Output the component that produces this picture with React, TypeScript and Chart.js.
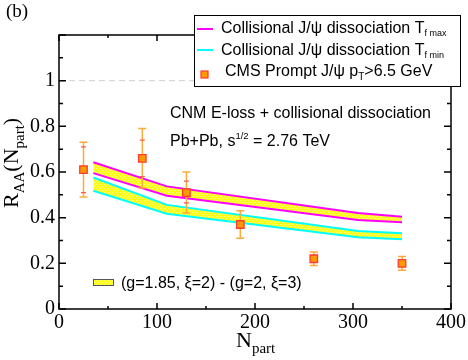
import React, { useEffect, useRef } from "react";
import { Chart, registerables } from "chart.js";

Chart.register(...registerables);

// CMS data points
const npart = [25, 85, 130, 185, 260, 350];
const raa = [0.61, 0.66, 0.51, 0.37, 0.22, 0.2];
const errOuterHi = [0.73, 0.79, 0.6, 0.43, 0.25, 0.23];
const errOuterLo = [0.49, 0.53, 0.42, 0.31, 0.19, 0.17];
const errInnerHi = [0.71, 0.74, 0.56, null, null, null];
const errInnerLo = [0.51, 0.58, 0.465, null, null, null];

// Theory bands
const bandN = [35, 110, 305, 350];
const magUp = [0.643, 0.537, 0.42, 0.404];
const magLo = [0.595, 0.496, 0.39, 0.38];
const cyUp = [0.576, 0.456, 0.342, 0.332];
const cyLo = [0.518, 0.417, 0.314, 0.306];

const xTicks = [0, 100, 200, 300, 400];
const yTicks = [0, 0.2, 0.4, 0.6, 0.8, 1];

const SERIF = "'Liberation Serif', 'Times New Roman', serif";
const SANS = "'Liberation Sans', Arial, sans-serif";

function makePattern(): CanvasPattern | string {
  const c = document.createElement("canvas");
  c.width = 4;
  c.height = 4;
  const g = c.getContext("2d");
  if (!g) return "#ffff00";
  g.fillStyle = "#ffff10";
  g.fillRect(0, 0, 4, 4);
  g.fillStyle = "#ffff90";
  g.fillRect(0, 0, 1, 1);
  g.fillRect(2, 2, 1, 1);
  const p = g.createPattern(c, "repeat");
  return p || "#ffff00";
}

type Part = { t: string; font: string; dy?: number };
function drawRich(ctx: CanvasRenderingContext2D, x: number, y: number, parts: Part[]) {
  let cx = x;
  for (const p of parts) {
    ctx.font = p.font;
    ctx.fillText(p.t, cx, y + (p.dy || 0));
    cx += ctx.measureText(p.t).width;
  }
}

export default function App() {
  const ref = useRef<HTMLCanvasElement | null>(null);

  useEffect(() => {
    if (!ref.current) return;
    const pattern = makePattern();

    const deco = {
      id: "deco",
      beforeDatasetsDraw(chart: any) {
        const { ctx, chartArea, scales } = chart;
        const y1 = scales.y.getPixelForValue(1);
        ctx.save();
        ctx.strokeStyle = "#d0d0d0";
        ctx.lineWidth = 1;
        ctx.setLineDash([6, 4]);
        ctx.beginPath();
        ctx.moveTo(chartArea.left, y1);
        ctx.lineTo(chartArea.right, y1);
        ctx.stroke();
        ctx.restore();
      },
      beforeDatasetDraw(chart: any, args: any) {
        if (args.index !== 0) return;
        const { ctx, scales } = chart;
        ctx.save();
        ctx.lineWidth = 1.5;
        for (let i = 0; i < npart.length; i++) {
          const x = scales.x.getPixelForValue(npart[i]);
          const hi = scales.y.getPixelForValue(errOuterHi[i]);
          const lo = scales.y.getPixelForValue(errOuterLo[i]);
          ctx.strokeStyle = "#ffaa3a";
          ctx.beginPath();
          ctx.moveTo(x, hi);
          ctx.lineTo(x, lo);
          ctx.moveTo(x - 4, hi);
          ctx.lineTo(x + 4, hi);
          ctx.moveTo(x - 4, lo);
          ctx.lineTo(x + 4, lo);
          ctx.stroke();
          const ih = errInnerHi[i];
          const il = errInnerLo[i];
          if (ih != null && il != null) {
            const a = scales.y.getPixelForValue(ih);
            const b = scales.y.getPixelForValue(il);
            ctx.strokeStyle = "#ff5a4a";
            ctx.lineWidth = 1.2;
            ctx.beginPath();
            ctx.moveTo(x - 2.5, a);
            ctx.lineTo(x + 2.5, a);
            ctx.moveTo(x - 2.5, b);
            ctx.lineTo(x + 2.5, b);
            ctx.stroke();
            ctx.lineWidth = 1.5;
          }
        }
        ctx.restore();
      },
      afterDraw(chart: any) {
        const { ctx, chartArea, scales } = chart;
        const { left, right, top, bottom } = chartArea;
        ctx.save();
        // frame
        ctx.strokeStyle = "#000";
        ctx.lineWidth = 1.5;
        ctx.strokeRect(left, top, right - left, bottom - top);
        // ticks
        ctx.beginPath();
        for (let v = 0; v <= 400; v += 50) {
          const x = scales.x.getPixelForValue(v);
          const len = v % 100 === 0 ? 6 : 3;
          ctx.moveTo(x, bottom);
          ctx.lineTo(x, bottom - len);
          ctx.moveTo(x, top);
          ctx.lineTo(x, top + len);
        }
        for (let k = 0; k <= 12; k++) {
          const y = scales.y.getPixelForValue(k / 10);
          const len = k % 2 === 0 ? 7 : 4;
          ctx.moveTo(left, y);
          ctx.lineTo(left + len, y);
          ctx.moveTo(right, y);
          ctx.lineTo(right - len, y);
        }
        ctx.stroke();

        ctx.fillStyle = "#000";
        ctx.textBaseline = "alphabetic";
        ctx.textAlign = "left";
        // (b)
        ctx.font = `19px ${SERIF}`;
        ctx.fillText("(b)", 6, 17);

        // legend box
        ctx.fillStyle = "#fff";
        ctx.fillRect(194, 15, 267, 72);
        ctx.strokeStyle = "#000";
        ctx.lineWidth = 1;
        ctx.strokeRect(194.5, 15.5, 266, 71);
        ctx.lineWidth = 2;
        ctx.strokeStyle = "#ff00ff";
        ctx.beginPath();
        ctx.moveTo(197, 29);
        ctx.lineTo(213, 29);
        ctx.stroke();
        ctx.strokeStyle = "#00ffff";
        ctx.beginPath();
        ctx.moveTo(197, 50);
        ctx.lineTo(213, 50);
        ctx.stroke();
        ctx.fillStyle = "#ff9900";
        ctx.fillRect(201, 71, 7, 7);
        ctx.strokeStyle = "#ff3a30";
        ctx.lineWidth = 1.2;
        ctx.strokeRect(201, 71, 7, 7);

        ctx.fillStyle = "#000";
        const f14 = `16px ${SANS}`;
        const f9 = `9px ${SANS}`;
        drawRich(ctx, 221, 33, [
          { t: "Collisional J/\u03c8 dissociation T", font: f14 },
          { t: "f max", font: f9, dy: 3 },
        ]);
        drawRich(ctx, 221, 55, [
          { t: "Collisional J/\u03c8 dissociation T", font: f14 },
          { t: "f min", font: f9, dy: 3 },
        ]);
        drawRich(ctx, 225, 76, [
          { t: "CMS Prompt J/\u03c8 p", font: f14 },
          { t: "T", font: `10px ${SANS}`, dy: 4 },
          { t: ">6.5 GeV", font: f14 },
        ]);

        // annotations
        drawRich(ctx, 170, 118, [{ t: "CNM E-loss + collisional dissociation", font: f14 }]);
        drawRich(ctx, 170, 146, [
          { t: "Pb+Pb, s", font: f14 },
          { t: "1/2", font: `9.5px ${SANS}`, dy: -7 },
          { t: " = 2.76 TeV", font: f14 },
        ]);

        // band legend
        ctx.fillStyle = pattern as any;
        ctx.fillRect(93, 279, 20, 6);
        ctx.strokeStyle = "#555";
        ctx.lineWidth = 1;
        ctx.strokeRect(93.5, 279.5, 20, 6);
        ctx.fillStyle = "#000";
        drawRich(ctx, 121, 288, [{ t: "(g=1.85, \u03be=2) - (g=2, \u03be=3)", font: f14 }]);

        // axis titles
        drawRich(ctx, 236, 347, [
          { t: "N", font: `22px ${SERIF}` },
          { t: "part", font: `15px ${SERIF}`, dy: 6 },
        ]);
        ctx.translate(18, 208);
        ctx.rotate(-Math.PI / 2);
        drawRich(ctx, 0, 0, [
          { t: "R", font: `22px ${SERIF}` },
          { t: "AA", font: `15px ${SERIF}`, dy: 6 },
          { t: "(N", font: `22px ${SERIF}` },
          { t: "part", font: `15px ${SERIF}`, dy: 6 },
          { t: ")", font: `22px ${SERIF}` },
        ]);
        ctx.restore();
      },
    };

    const chart = new Chart(ref.current, {
      type: "line",
      data: {
        datasets: [
          {
            type: "scatter",
            label: "CMS",
            data: npart.map((x, i) => ({ x, y: raa[i] })),
            pointStyle: "rect",
            pointRadius: 5.3,
            backgroundColor: "#ff9900",
            borderColor: "#ff3a30",
            borderWidth: 1.3,
            showLine: false,
          } as any,
          {
            label: "magUp",
            data: bandN.map((x, i) => ({ x, y: magUp[i] })),
            borderColor: "#ff00ff",
            borderWidth: 2,
            pointRadius: 0,
            fill: false,
          },
          {
            label: "magLo",
            data: bandN.map((x, i) => ({ x, y: magLo[i] })),
            borderColor: "#ff00ff",
            borderWidth: 2,
            pointRadius: 0,
            fill: "-1",
            backgroundColor: pattern as any,
          },
          {
            label: "cyUp",
            data: bandN.map((x, i) => ({ x, y: cyUp[i] })),
            borderColor: "#00ffff",
            borderWidth: 2,
            pointRadius: 0,
            fill: false,
          },
          {
            label: "cyLo",
            data: bandN.map((x, i) => ({ x, y: cyLo[i] })),
            borderColor: "#00ffff",
            borderWidth: 2,
            pointRadius: 0,
            fill: "-1",
            backgroundColor: pattern as any,
          },
        ],
      },
      options: {
        responsive: false,
        animation: false,
        layout: { padding: { top: 35, right: 17, left: 0, bottom: 0 } },
        plugins: { legend: { display: false }, tooltip: { enabled: false } },
        elements: { line: { tension: 0 } },
        scales: {
          x: {
            type: "linear",
            min: 0,
            max: 400,
            afterFit: (s: any) => {
              s.height = 51;
            },
            afterBuildTicks: (s: any) => {
              s.ticks = xTicks.map((v) => ({ value: v }));
            },
            ticks: {
              font: { family: SERIF, size: 20 },
              color: "#000",
              padding: 2,
              maxRotation: 0,
              callback: (v: any) => String(v),
            },
            grid: { display: false, drawTicks: false },
            border: { display: false },
          },
          y: {
            type: "linear",
            min: 0,
            max: 1.2,
            afterFit: (s: any) => {
              s.width = 59;
            },
            afterBuildTicks: (s: any) => {
              s.ticks = yTicks.map((v) => ({ value: v }));
            },
            ticks: {
              font: { family: SERIF, size: 20 },
              color: "#000",
              padding: 4,
              callback: (v: any) => String(Math.round(Number(v) * 10) / 10),
            },
            grid: { display: false, drawTicks: false },
            border: { display: false },
          },
        },
      },
      plugins: [deco],
    });
    return () => chart.destroy();
  }, []);

  return (
    <div style={{ position: "absolute", left: 0, top: 0, width: 468, height: 360 }}>
      <canvas ref={ref} width={468} height={360} style={{ width: 468, height: 360 }} />
    </div>
  );
}
